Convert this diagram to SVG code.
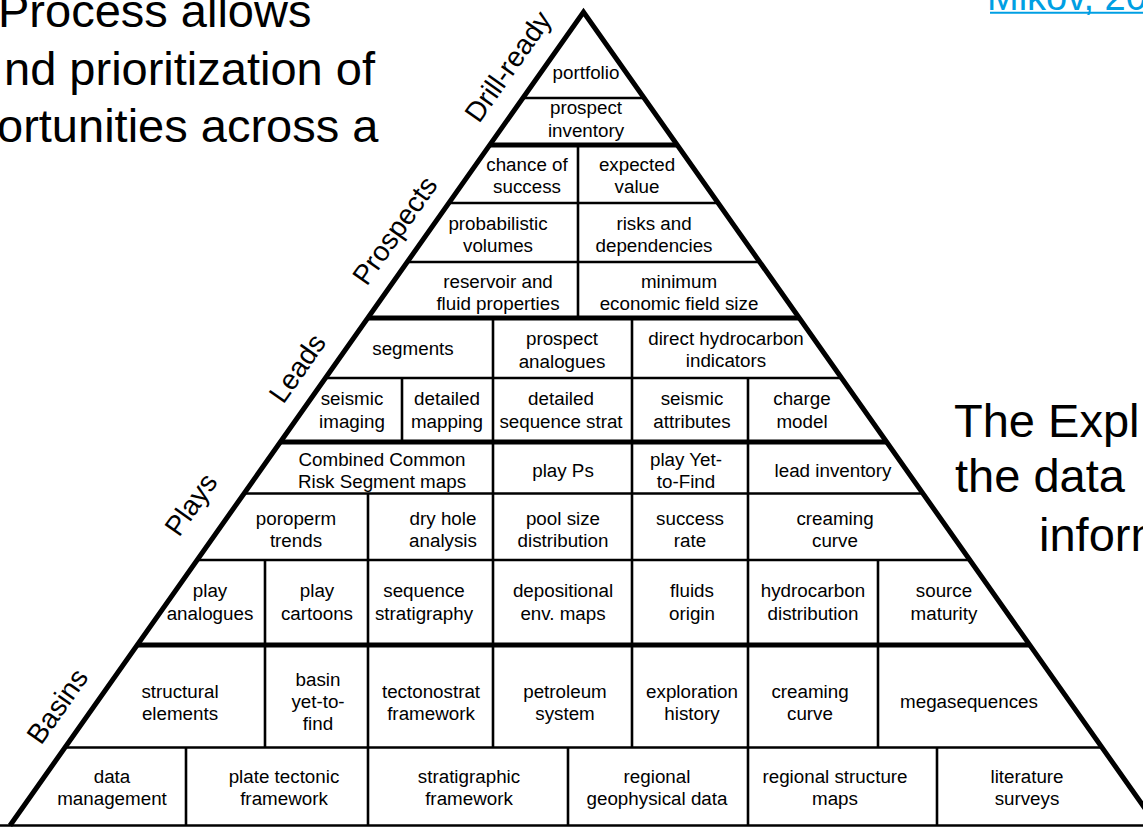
<svg xmlns="http://www.w3.org/2000/svg" width="1143" height="828" viewBox="0 0 1143 828">
  <style>
    text { font-family: "Liberation Sans", Arial, sans-serif; fill: #000; }
    .c { font-size: 18.8px; text-anchor: middle; }
    .tier { font-size: 28px; text-anchor: middle; }
    .big { font-size: 47px; }
    .link { font-size: 38px; fill: #009fe3; }
    .thin { stroke: #000; stroke-width: 2.6; fill: none; }
    .thick { stroke: #000; stroke-width: 5; fill: none; }
  </style>
  <defs>
    <clipPath id="tri">
      <polygon points="583.5,12 10,825.5 1157,825.5"/>
    </clipPath>
  </defs>

  <rect width="1143" height="828" fill="#fff"/>

  <!-- slide text around the pyramid -->
  <g id="caption-left">
    <text class="big" x="-2" y="27">Process allows</text>
    <text class="big" x="4" y="84.5">nd prioritization of</text>
    <text class="big" x="-3" y="142">ortunities across a</text>
  </g>
  <g id="caption-right">
    <text class="big" x="954" y="437">The Expl</text>
    <text class="big" x="955" y="492">the data</text>
    <text class="big" x="1039" y="550.5">inform</text>
  </g>
  <g id="citation">
    <text class="link" x="987" y="9.5">Mikov, 20</text>
    <line x1="990" y1="12.7" x2="1143" y2="12.7" stroke="#009fe3" stroke-width="2"/>
  </g>

  <!-- pyramid grid: tier rows and cell dividers -->
  <g id="grid" clip-path="url(#tri)">
    <line class="thin" x1="0" y1="98" x2="1143" y2="98"/>
    <line class="thick" x1="0" y1="145" x2="1143" y2="145"/>
    <line class="thin" x1="0" y1="203" x2="1143" y2="203"/>
    <line class="thin" x1="0" y1="262" x2="1143" y2="262"/>
    <line class="thick" x1="0" y1="318" x2="1143" y2="318"/>
    <line class="thin" x1="0" y1="378" x2="1143" y2="378"/>
    <line class="thick" x1="0" y1="442" x2="1143" y2="442"/>
    <line class="thin" x1="0" y1="493.5" x2="1143" y2="493.5"/>
    <line class="thin" x1="0" y1="560" x2="1143" y2="560"/>
    <line class="thick" x1="0" y1="645" x2="1143" y2="645"/>
    <line class="thin" x1="0" y1="747.5" x2="1143" y2="747.5"/>
    <path class="thin" d="M578,145V318 M493,318V747.5 M632,318V747.5 M748,378V825 M402,378V442 M368,493.5V825 M265,560V747.5 M878,560V747.5 M186,747.5V825 M568,747.5V825 M937,747.5V825"/>
  </g>
  <g id="outline">
    <path class="thick" d="M10,825.5 L583.5,12 L1157,825.5" stroke-width="5.5" stroke-linejoin="miter" stroke-miterlimit="10"/>
    <line class="thin" x1="0" y1="825.5" x2="1143" y2="825.5"/>
  </g>

  <!-- tier names along the left flank -->
  <g id="tier-drill-ready"><text class="tier" transform="translate(510,68) rotate(-54.8)" y="7">Drill-ready</text></g>
  <g id="tier-prospects"><text class="tier" transform="translate(397,232) rotate(-54.8)" y="7">Prospects</text></g>
  <g id="tier-leads"><text class="tier" transform="translate(297,368) rotate(-54.8)" y="10">Leads</text></g>
  <g id="tier-plays"><text class="tier" transform="translate(193,506) rotate(-54.8)" y="7">Plays</text></g>
  <g id="tier-basins"><text class="tier" transform="translate(57,706) rotate(-54.8)" y="10">Basins</text></g>

  <!-- Drill-ready -->
  <g id="portfolio"><text class="c" x="586" y="79">portfolio</text></g>
  <g id="prospect-inventory"><text class="c"><tspan x="586" y="114">prospect</tspan><tspan x="586" y="137">inventory</tspan></text></g>

  <!-- Prospects -->
  <g id="chance-of-success"><text class="c"><tspan x="527" y="171">chance of</tspan><tspan x="527" y="193">success</tspan></text></g>
  <g id="expected-value"><text class="c"><tspan x="637" y="171">expected</tspan><tspan x="637" y="193">value</tspan></text></g>
  <g id="probabilistic-volumes"><text class="c"><tspan x="498" y="230">probabilistic</tspan><tspan x="498" y="252">volumes</tspan></text></g>
  <g id="risks-dependencies"><text class="c"><tspan x="654" y="230">risks and</tspan><tspan x="654" y="252">dependencies</tspan></text></g>
  <g id="reservoir-fluid"><text class="c"><tspan x="498" y="288">reservoir and</tspan><tspan x="498" y="310">fluid properties</tspan></text></g>
  <g id="min-field-size"><text class="c"><tspan x="679" y="288">minimum</tspan><tspan x="679" y="310">economic field size</tspan></text></g>

  <!-- Leads -->
  <g id="segments"><text class="c" x="413" y="355">segments</text></g>
  <g id="prospect-analogues"><text class="c"><tspan x="562" y="345">prospect</tspan><tspan x="562" y="368">analogues</tspan></text></g>
  <g id="dhi"><text class="c"><tspan x="726" y="345">direct hydrocarbon</tspan><tspan x="726" y="367">indicators</tspan></text></g>
  <g id="seismic-imaging"><text class="c"><tspan x="352" y="405">seismic</tspan><tspan x="352" y="428">imaging</tspan></text></g>
  <g id="detailed-mapping"><text class="c"><tspan x="447" y="405">detailed</tspan><tspan x="447" y="428">mapping</tspan></text></g>
  <g id="detailed-seq-strat"><text class="c"><tspan x="561" y="405">detailed</tspan><tspan x="561" y="428">sequence strat</tspan></text></g>
  <g id="seismic-attributes"><text class="c"><tspan x="692" y="405">seismic</tspan><tspan x="692" y="428">attributes</tspan></text></g>
  <g id="charge-model"><text class="c"><tspan x="802" y="405">charge</tspan><tspan x="802" y="428">model</tspan></text></g>

  <!-- Plays -->
  <g id="ccrs-maps"><text class="c"><tspan x="382" y="466">Combined Common</tspan><tspan x="382" y="488">Risk Segment maps</tspan></text></g>
  <g id="play-ps"><text class="c" x="563" y="477">play Ps</text></g>
  <g id="play-ytf"><text class="c"><tspan x="686" y="466">play Yet-</tspan><tspan x="686" y="488">to-Find</tspan></text></g>
  <g id="lead-inventory"><text class="c" x="833" y="477">lead inventory</text></g>
  <g id="poroperm-trends"><text class="c"><tspan x="296" y="525">poroperm</tspan><tspan x="296" y="547">trends</tspan></text></g>
  <g id="dry-hole-analysis"><text class="c"><tspan x="443" y="525">dry hole</tspan><tspan x="443" y="547">analysis</tspan></text></g>
  <g id="pool-size"><text class="c"><tspan x="563" y="525">pool size</tspan><tspan x="563" y="547">distribution</tspan></text></g>
  <g id="success-rate"><text class="c"><tspan x="690" y="525">success</tspan><tspan x="690" y="547">rate</tspan></text></g>
  <g id="play-creaming-curve"><text class="c"><tspan x="835" y="525">creaming</tspan><tspan x="835" y="547">curve</tspan></text></g>
  <g id="play-analogues"><text class="c"><tspan x="210" y="597">play</tspan><tspan x="210" y="620">analogues</tspan></text></g>
  <g id="play-cartoons"><text class="c"><tspan x="317" y="597">play</tspan><tspan x="317" y="620">cartoons</tspan></text></g>
  <g id="sequence-stratigraphy"><text class="c"><tspan x="424" y="597">sequence</tspan><tspan x="424" y="620">stratigraphy</tspan></text></g>
  <g id="depositional-maps"><text class="c"><tspan x="563" y="597">depositional</tspan><tspan x="563" y="620">env. maps</tspan></text></g>
  <g id="fluids-origin"><text class="c"><tspan x="692" y="597">fluids</tspan><tspan x="692" y="620">origin</tspan></text></g>
  <g id="hc-distribution"><text class="c"><tspan x="813" y="597">hydrocarbon</tspan><tspan x="813" y="620">distribution</tspan></text></g>
  <g id="source-maturity"><text class="c"><tspan x="944" y="597">source</tspan><tspan x="944" y="620">maturity</tspan></text></g>

  <!-- Basins -->
  <g id="structural-elements"><text class="c"><tspan x="180" y="698">structural</tspan><tspan x="180" y="720">elements</tspan></text></g>
  <g id="basin-ytf"><text class="c"><tspan x="318" y="686">basin</tspan><tspan x="318" y="708">yet-to-</tspan><tspan x="318" y="730">find</tspan></text></g>
  <g id="tectonostrat"><text class="c"><tspan x="431" y="698">tectonostrat</tspan><tspan x="431" y="720">framework</tspan></text></g>
  <g id="petroleum-system"><text class="c"><tspan x="565" y="698">petroleum</tspan><tspan x="565" y="720">system</tspan></text></g>
  <g id="exploration-history"><text class="c"><tspan x="692" y="698">exploration</tspan><tspan x="692" y="720">history</tspan></text></g>
  <g id="basin-creaming-curve"><text class="c"><tspan x="810" y="698">creaming</tspan><tspan x="810" y="720">curve</tspan></text></g>
  <g id="megasequences"><text class="c" x="969" y="708">megasequences</text></g>
  <g id="data-management"><text class="c"><tspan x="112" y="783">data</tspan><tspan x="112" y="805">management</tspan></text></g>
  <g id="plate-tectonic"><text class="c"><tspan x="284" y="783">plate tectonic</tspan><tspan x="284" y="805">framework</tspan></text></g>
  <g id="stratigraphic-framework"><text class="c"><tspan x="469" y="783">stratigraphic</tspan><tspan x="469" y="805">framework</tspan></text></g>
  <g id="regional-geophysical"><text class="c"><tspan x="657" y="783">regional</tspan><tspan x="657" y="805">geophysical data</tspan></text></g>
  <g id="regional-structure"><text class="c"><tspan x="835" y="783">regional structure</tspan><tspan x="835" y="805">maps</tspan></text></g>
  <g id="literature-surveys"><text class="c"><tspan x="1027" y="783">literature</tspan><tspan x="1027" y="805">surveys</tspan></text></g>
</svg>
